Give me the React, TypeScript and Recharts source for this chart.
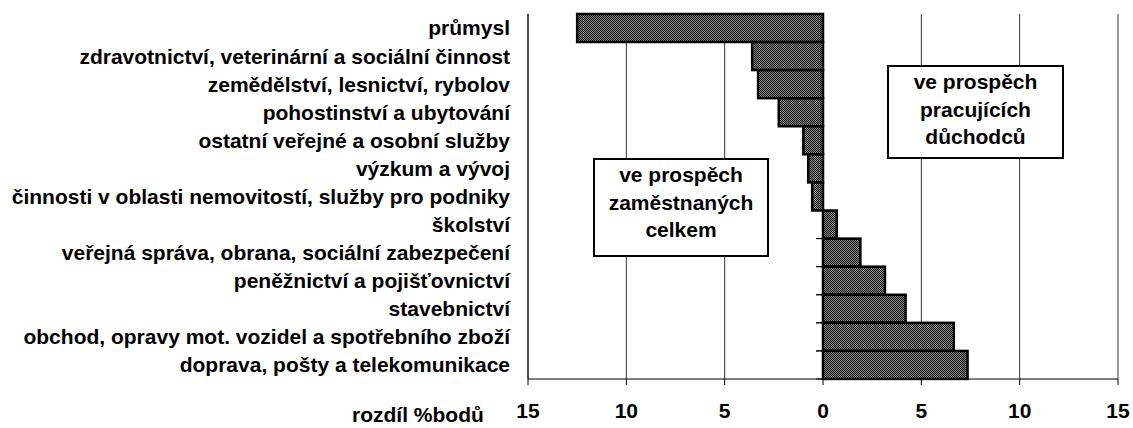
import { BarChart, Bar, XAxis, YAxis, CartesianGrid } from 'recharts'

const categories = [
  'průmysl',
  'zdravotnictví, veterinární a sociální činnost',
  'zemědělství, lesnictví, rybolov',
  'pohostinství a ubytování',
  'ostatní veřejné a osobní služby',
  'výzkum a vývoj',
  'činnosti v oblasti nemovitostí, služby pro podniky',
  'školství',
  'veřejná správa, obrana, sociální zabezpečení',
  'peněžnictví a pojišťovnictví',
  'stavebnictví',
  'obchod, opravy mot. vozidel a spotřebního zboží',
  'doprava, pošty a telekomunikace',
]

const differences = [-12.5, -3.6, -3.3, -2.25, -1.0, -0.75, -0.55, 0.7, 1.9, 3.15, 4.2, 6.65, 7.35]

const xTicks = [-15, -10, -5, 0, 5, 10, 15]

const data = categories.map((name, i) => ({ name, diff: differences[i] }))

const font = "'Liberation Sans', Arial, sans-serif"

// bar with Excel-like category tick marks at the zero line
function PatternBar(props: any) {
  const { x, y, width, height, value } = props
  const left = Math.min(x, x + width)
  const right = Math.max(x, x + width)
  const zero = value >= 0 ? left : right
  return (
    <g>
      <line x1={zero - 7} x2={zero} y1={y} y2={y} stroke="#000" strokeWidth={1} />
      <line x1={zero - 7} x2={zero} y1={y + height} y2={y + height} stroke="#000" strokeWidth={1} />
      <rect
        x={left}
        y={y}
        width={right - left}
        height={height}
        fill="url(#dither)"
        stroke="#000"
        strokeWidth={2.5}
      />
    </g>
  )
}

const boxStyle: React.CSSProperties = {
  position: 'absolute',
  boxSizing: 'border-box',
  border: '2px solid #000',
  background: '#fff',
  fontFamily: font,
  fontWeight: 700,
  fontSize: 21,
  lineHeight: '27.5px',
  textAlign: 'center',
  paddingTop: 1,
}

export default function App() {
  return (
    <div style={{ position: 'absolute', left: 0, top: 0, width: 1133, height: 428, background: '#fff' }}>
      <BarChart
        width={1133}
        height={428}
        data={data}
        layout="vertical"
        barCategoryGap={0}
        margin={{ top: 14, right: 15, left: 0, bottom: 0 }}
      >
        <defs>
          <pattern id="dither" width={2} height={2} patternUnits="userSpaceOnUse">
            <rect width={2} height={2} fill="#8c8c8c" />
            <rect width={1} height={1} fill="#111" />
            <rect x={1} y={1} width={1} height={1} fill="#111" />
          </pattern>
        </defs>
        <CartesianGrid horizontal={false} stroke="#333" strokeWidth={1} />
        <XAxis
          type="number"
          domain={[-15, 15]}
          ticks={xTicks}
          tickFormatter={(v: number) => String(Math.abs(v))}
          height={49}
          tickSize={6}
          tickMargin={18}
          stroke="#000"
          tick={{ fill: '#000', fontSize: 21, fontWeight: 700, fontFamily: font }}
        />
        <YAxis
          type="category"
          dataKey="name"
          width={528}
          tickLine={false}
          tickSize={0}
          tickMargin={18}
          stroke="#000"
          interval={0}
          tick={{ fill: '#000', fontSize: 21, fontWeight: 700, fontFamily: font }}
        />
        <Bar dataKey="diff" shape={PatternBar} isAnimationActive={false} />
      </BarChart>
      <div style={{ ...boxStyle, left: 593, top: 158, width: 176, height: 99 }}>
        ve prospěch
        <br />
        zaměstnaných
        <br />
        celkem
      </div>
      <div style={{ ...boxStyle, left: 887, top: 65, width: 177, height: 94 }}>
        ve prospěch
        <br />
        pracujících
        <br />
        důchodců
      </div>
      <div
        style={{
          position: 'absolute',
          left: 352,
          top: 403,
          fontFamily: font,
          fontWeight: 700,
          fontSize: 21,
          lineHeight: '24px',
          whiteSpace: 'nowrap',
        }}
      >
        rozdíl %bodů
      </div>
    </div>
  )
}
